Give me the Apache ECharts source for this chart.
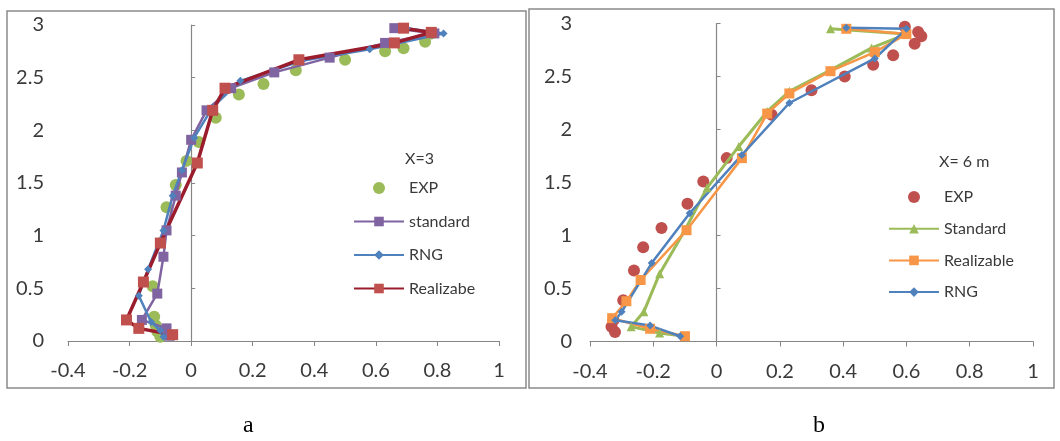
<!DOCTYPE html>
<html>
<head>
<meta charset="utf-8">
<script src="https://cdn.jsdelivr.net/npm/echarts@6/dist/echarts.min.js"></script>
<style>
  html, body { margin: 0; padding: 0; background: #fff; }
  #chart { width: 1060px; height: 441px; }
</style>
</head>
<body>
<div id="chart"></div>
<script>
// 数据  [x, y]
var xTicks = [-0.4, -0.2, 0, 0.2, 0.4, 0.6, 0.8, 1];
var yTicks = [0, 0.5, 1, 1.5, 2, 2.5, 3];

// a: X=3
var aExp = [[0.78,2.92],[0.76,2.84],[0.69,2.78],[0.63,2.75],[0.50,2.67],[0.34,2.57],[0.235,2.44],[0.155,2.34],[0.08,2.12],[0.025,1.89],[-0.015,1.71],[-0.05,1.48],[-0.08,1.27],[-0.125,0.52],[-0.12,0.23],[-0.115,0.15],[-0.11,0.09],[-0.10,0.04]];
var aStandard = [[0.66,2.97],[0.79,2.92],[0.63,2.83],[0.45,2.69],[0.27,2.55],[0.13,2.40],[0.05,2.19],[0.00,1.91],[-0.03,1.60],[-0.05,1.38],[-0.08,1.05],[-0.09,0.80],[-0.11,0.45],[-0.16,0.20],[-0.08,0.12],[-0.07,0.05]];
var aRng = [[0.70,2.97],[0.82,2.92],[0.58,2.77],[0.36,2.66],[0.16,2.47],[0.07,2.22],[0.01,1.93],[-0.03,1.62],[-0.06,1.38],[-0.09,1.05],[-0.14,0.68],[-0.17,0.43],[-0.13,0.18],[-0.10,0.10],[-0.09,0.04]];
var aRealizabe = [[0.69,2.97],[0.78,2.93],[0.66,2.83],[0.35,2.67],[0.11,2.40],[0.07,2.19],[0.02,1.69],[-0.10,0.93],[-0.155,0.56],[-0.21,0.20],[-0.17,0.12],[-0.06,0.06]];

// b: X= 6 m
var bExp = [[0.595,2.97],[0.637,2.92],[0.647,2.88],[0.626,2.81],[0.558,2.70],[0.495,2.61],[0.405,2.50],[0.30,2.37],[0.174,2.14],[0.032,1.73],[-0.042,1.51],[-0.092,1.30],[-0.174,1.07],[-0.232,0.89],[-0.261,0.67],[-0.295,0.39],[-0.326,0.20],[-0.332,0.14],[-0.321,0.09]];
var bStandard = [[0.36,2.95],[0.60,2.90],[0.49,2.77],[0.36,2.56],[0.23,2.36],[0.16,2.17],[0.07,1.84],[-0.03,1.45],[-0.10,1.05],[-0.18,0.64],[-0.23,0.28],[-0.27,0.14],[-0.18,0.08],[-0.10,0.05]];
var bRealizable = [[0.41,2.95],[0.60,2.90],[0.50,2.73],[0.36,2.55],[0.23,2.34],[0.16,2.15],[0.08,1.73],[-0.095,1.05],[-0.24,0.58],[-0.285,0.38],[-0.33,0.22],[-0.21,0.12],[-0.10,0.05]];
var bRng = [[0.41,2.96],[0.60,2.95],[0.50,2.67],[0.23,2.25],[0.08,1.76],[-0.085,1.21],[-0.205,0.74],[-0.30,0.28],[-0.32,0.20],[-0.21,0.15],[-0.115,0.05]];

var FONT = 'Lato';
var axisGray = '#868686';
var textGray = '#3a3a3a';

function fmt(v) { return String(+(+v).toFixed(1)); }

function xAxisFor(grid) {
	return {
		type: 'value', gridIndex: grid,
		min: xTicks[0], max: xTicks[xTicks.length - 1], interval: 0.2,
		splitLine: { show: false },
		axisLine: { lineStyle: { color: axisGray, width: 1.2 } },
		axisTick: { length: 5, lineStyle: { color: axisGray } },
		axisLabel: { margin: 20, fontSize: 20, color: textGray, fontFamily: FONT, formatter: fmt }
	};
}
// 左侧只放刻度文字
function yLabelAxis(grid, margin) {
	return {
		type: 'value', gridIndex: grid,
		min: yTicks[0], max: yTicks[yTicks.length - 1], interval: 0.5,
		splitLine: { show: false },
		axisLine: { show: false, onZero: false },
		axisTick: { show: false },
		axisLabel: { margin: margin, fontSize: 20, color: textGray, fontFamily: FONT, formatter: fmt }
	};
}
// x=0 处的纵轴线
function yLineAxis(grid) {
	return {
		type: 'value', gridIndex: grid,
		min: yTicks[0], max: yTicks[yTicks.length - 1], interval: 0.5,
		splitLine: { show: false },
		axisLine: { show: true, onZero: true, lineStyle: { color: axisGray, width: 1.2 } },
		axisTick: { show: true, length: 4, lineStyle: { color: axisGray } },
		axisLabel: { show: false }
	};
}

function lineSeries(name, data, yIdx, color, width, symbol, size, symColor) {
	return {
		name: name, type: 'line', xAxisIndex: yIdx < 2 ? 0 : 1, yAxisIndex: yIdx,
		data: data, symbol: symbol, symbolSize: size, showSymbol: true,
		lineStyle: { color: color, width: width },
		itemStyle: { color: symColor || color, borderWidth: 0 },
		animation: false
	};
}
function expSeries(name, data, yIdx, color) {
	return {
		name: name, type: 'scatter', xAxisIndex: yIdx < 2 ? 0 : 1, yAxisIndex: yIdx,
		data: data, symbol: 'circle', symbolSize: 12,
		itemStyle: { color: color, opacity: 1 },
		animation: false
	};
}

var legendBase = {
	orient: 'vertical',
	itemWidth: 50, itemHeight: 12,
	textStyle: { fontSize: 16, color: textGray, fontFamily: FONT, lineHeight: 16 },
	formatter: function (n) { return n.slice(2); },
	selectedMode: false
};

var chart = echarts.init(document.getElementById('chart'));
chart.setOption({
	backgroundColor: '#ffffff',
	animation: false,
	grid: [
		{ left: 68, top: 25, width: 431, height: 316 },
		{ left: 590, top: 23.5, width: 443, height: 318 }
	],
	xAxis: [xAxisFor(0), xAxisFor(1)],
	yAxis: [yLabelAxis(0, 24), yLineAxis(0), yLabelAxis(1, 18), yLineAxis(1)],
	title: [
		{ text: 'X=3', left: 400, top: 146, textStyle: { fontSize: 16, fontWeight: 'normal', color: textGray, fontFamily: FONT } },
		{ text: 'X= 6 m', left: 934, top: 149, textStyle: { fontSize: 16, fontWeight: 'normal', color: textGray, fontFamily: FONT } }
	],
	legend: [
		Object.assign({}, legendBase, { left: 348, top: 175, itemGap: 17.5,
			data: ['a-EXP', 'a-standard', 'a-RNG', 'a-Realizabe'] }),
		Object.assign({}, legendBase, { left: 883, top: 184, itemGap: 15.7,
			data: ['b-EXP', 'b-Standard', 'b-Realizable', 'b-RNG'] })
	],
	series: [
		expSeries('a-EXP', aExp, 1, '#9BBB59'),
		lineSeries('a-standard', aStandard, 1, '#8064A2', 2.5, 'rect', 10),
		lineSeries('a-RNG', aRng, 1, '#4F81BD', 2.5, 'diamond', 8),
		lineSeries('a-Realizabe', aRealizabe, 1, '#9B1C2C', 3.5, 'rect', 11, '#C0504D'),
		expSeries('b-EXP', bExp, 3, '#C0504D'),
		lineSeries('b-Standard', bStandard, 3, '#9BBB59', 3, 'triangle', 9),
		lineSeries('b-Realizable', bRealizable, 3, '#F79646', 2.5, 'rect', 10),
		lineSeries('b-RNG', bRng, 3, '#4F81BD', 2.5, 'diamond', 8)
	],
	graphic: [
		{ type: 'rect', shape: { x: 7, y: 11, width: 519, height: 377 }, style: { fill: 'none', stroke: '#8a8a8a', lineWidth: 1.5 }, silent: true },
		{ type: 'rect', shape: { x: 529, y: 9, width: 525, height: 379 }, style: { fill: 'none', stroke: '#8a8a8a', lineWidth: 1.5 }, silent: true },
		{ type: 'text', left: 243, top: 414, style: { text: 'a', font: '24px "Liberation Serif"', fill: '#000' } },
		{ type: 'text', left: 813, top: 414, style: { text: 'b', font: '24px "Liberation Serif"', fill: '#000' } }
	]
});
</script>
</body>
</html>
